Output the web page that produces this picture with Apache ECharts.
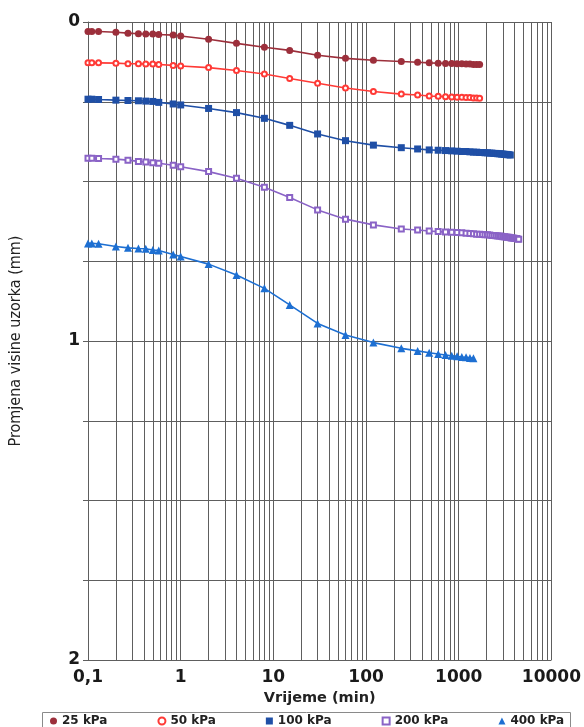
<!DOCTYPE html>
<html>
<head>
<meta charset="utf-8">
<script src="https://cdn.jsdelivr.net/npm/echarts@6/dist/echarts.min.js"></script>
<style>
  html, body { margin: 0; padding: 0; background: #ffffff; }
  #chart { width: 584px; height: 727px; }
</style>
</head>
<body>
<div id="chart"></div>
<script>
// Consolidation curves: settlement (mm) vs. time (min), log time axis.
const seriesNames = ['25 kPa', '50 kPa', '100 kPa', '200 kPa', '400 kPa'];

// Reading times (min)
const time25 = [0.1, 0.11, 0.13, 0.2, 0.27, 0.35, 0.42, 0.5, 0.58, 0.83, 1, 2, 4, 8, 15, 30, 60, 120, 240,
  360, 480, 600, 720, 840, 960, 1080, 1200, 1320, 1440, 1560, 1680];
const time50 = [0.1, 0.11, 0.13, 0.2, 0.27, 0.35, 0.42, 0.5, 0.58, 0.83, 1, 2, 4, 8, 15, 30, 60, 120, 240,
  360, 480, 600, 720, 840, 960, 1080, 1200, 1320, 1440, 1560, 1680];
const time100 = [0.1, 0.11, 0.13, 0.2, 0.27, 0.35, 0.42, 0.5, 0.58, 0.83, 1, 2, 4, 8, 15, 30, 60, 120, 240,
  360, 480, 600, 720, 840, 960, 1080, 1200, 1320, 1440, 1560, 1680, 1800, 1920, 2040, 2160, 2280, 2400,
  2520, 2640, 2760, 2880, 3000, 3120, 3240, 3360, 3480, 3600];
const time200 = [0.1, 0.11, 0.13, 0.2, 0.27, 0.35, 0.42, 0.5, 0.58, 0.83, 1, 2, 4, 8, 15, 30, 60, 120, 240,
  360, 480, 600, 720, 840, 960, 1080, 1200, 1320, 1440, 1560, 1680, 1800, 1920, 2040, 2160, 2280, 2400,
  2520, 2640, 2760, 2880, 3000, 3120, 3240, 3360, 3480, 3600, 3720, 3840, 3960, 4080, 4200, 4320, 4440];
const time400 = [0.1, 0.11, 0.13, 0.2, 0.27, 0.35, 0.42, 0.5, 0.58, 0.83, 1, 2, 4, 8, 15, 30, 60, 120, 240,
  360, 480, 600, 720, 840, 960, 1080, 1200, 1320, 1440];

// Settlement (mm)
const settle25 = [0.030, 0.030, 0.030, 0.032, 0.035, 0.037, 0.038, 0.038, 0.039, 0.041, 0.044, 0.054, 0.067,
  0.079, 0.089, 0.104, 0.114, 0.120, 0.124, 0.126, 0.128, 0.129, 0.130, 0.130, 0.131, 0.131, 0.132, 0.132,
  0.133, 0.133, 0.133];
const settle50 = [0.128, 0.128, 0.128, 0.129, 0.131, 0.131, 0.132, 0.132, 0.133, 0.136, 0.138, 0.143, 0.152,
  0.163, 0.177, 0.192, 0.207, 0.218, 0.226, 0.229, 0.232, 0.233, 0.234, 0.235, 0.236, 0.236, 0.237, 0.237,
  0.238, 0.238, 0.239];
const settle100 = [0.242, 0.242, 0.243, 0.245, 0.246, 0.247, 0.248, 0.249, 0.252, 0.257, 0.260, 0.271, 0.284,
  0.302, 0.324, 0.351, 0.372, 0.386, 0.394, 0.398, 0.401, 0.402, 0.403, 0.404, 0.405, 0.406, 0.406, 0.407,
  0.408, 0.408, 0.409, 0.409, 0.410, 0.410, 0.411, 0.411, 0.412, 0.412, 0.413, 0.413, 0.414, 0.414, 0.415,
  0.415, 0.416, 0.416, 0.417];
const settle200 = [0.427, 0.427, 0.428, 0.430, 0.433, 0.437, 0.439, 0.441, 0.443, 0.449, 0.454, 0.469, 0.490,
  0.518, 0.550, 0.589, 0.618, 0.636, 0.649, 0.652, 0.655, 0.657, 0.658, 0.659, 0.660, 0.661, 0.662, 0.663,
  0.664, 0.665, 0.665, 0.666, 0.667, 0.667, 0.668, 0.669, 0.669, 0.670, 0.671, 0.671, 0.672, 0.673, 0.673,
  0.674, 0.675, 0.675, 0.676, 0.677, 0.677, 0.678, 0.679, 0.679, 0.680, 0.681];
const settle400 = [0.694, 0.694, 0.695, 0.704, 0.708, 0.710, 0.711, 0.715, 0.716, 0.729, 0.735, 0.759, 0.793,
  0.835, 0.887, 0.945, 0.981, 1.005, 1.023, 1.031, 1.037, 1.041, 1.044, 1.046, 1.048, 1.050, 1.051, 1.053,
  1.054];

// Axis tick labels
const xTickLabels = ['0,1', '1', '10', '100', '1000', '10000'];
const yTickLabels = ['0', '1', '2'];

// Intermediate log-cycle grid values (2..9 in each decade)
const minorGridX = [
  0.2, 0.3, 0.4, 0.5, 0.6, 0.7, 0.8, 0.9,
  2, 3, 4, 5, 6, 7, 8, 9,
  20, 30, 40, 50, 60, 70, 80, 90,
  200, 300, 400, 500, 600, 700, 800, 900,
  2000, 3000, 4000, 5000, 6000, 7000, 8000, 9000
];

const gridColor = '#5e5e5e';
const styles = [
  { color: '#9c2f3b', symbol: 'circle', size: 7 },
  { color: '#ff3a36', symbol: 'emptyCircle', size: 5 },
  { color: '#1f4fa6', symbol: 'rect', size: 7 },
  { color: '#8a63c6', symbol: 'emptyRect', size: 5 },
  { color: '#1d6fd2', symbol: 'triangle', size: 8 }
];
const times = [time25, time50, time100, time200, time400];
const settles = [settle25, settle50, settle100, settle200, settle400];

const pair = (t, s) => t.map((v, i) => [v, s[i]]);

const curveSeries = seriesNames.map((name, k) => ({
  name: name,
  type: 'line',
  data: pair(times[k], settles[k]),
  symbol: styles[k].symbol,
  symbolSize: styles[k].size,
  showAllSymbol: true,
  z: 5,
  lineStyle: { color: styles[k].color, width: 1.6 },
  itemStyle: { color: styles[k].color, borderColor: styles[k].color, borderWidth: styles[k].symbol.startsWith('empty') ? 1.8 : 0 },
  animation: false
}));

const gridSeries = {
  name: 'grid',
  type: 'line',
  data: [],
  silent: true,
  z: 1,
  markLine: {
    silent: true,
    symbol: ['none', 'none'],
    animation: false,
    label: { show: false },
    lineStyle: { color: gridColor, width: 1, type: 'solid' },
    data: minorGridX.map(v => ({ xAxis: v }))
  }
};

const chart = echarts.init(document.getElementById('chart'), null, { renderer: 'canvas' });
chart.setOption({
  backgroundColor: '#ffffff',
  animation: false,
  grid: { left: 88, right: 31, top: 22, bottom: 67, containLabel: false },
  xAxis: {
    type: 'log',
    logBase: 10,
    min: 0.1,
    max: 10000,
    name: 'Vrijeme (min)',
    nameLocation: 'middle',
    nameGap: 31,
    nameTextStyle: { fontFamily: 'DejaVu Sans', fontWeight: 'bold', fontSize: 14.5, color: '#222' },
    axisLine: { show: true, lineStyle: { color: gridColor, width: 1 } },
    axisTick: { show: true, length: 4, lineStyle: { color: gridColor } },
    axisLabel: {
      fontFamily: 'DejaVu Sans', fontWeight: 'bold', fontSize: 17, color: '#1a1a1a', margin: 9,
      formatter: (v, i) => xTickLabels[i] !== undefined ? xTickLabels[i] : ''
    },
    splitLine: { show: true, lineStyle: { color: gridColor, width: 1 } }
  },
  yAxis: {
    type: 'value',
    inverse: true,
    min: 0,
    max: 2,
    interval: 0.25,
    name: 'Promjena visine uzorka (mm)',
    nameLocation: 'middle',
    nameRotate: 90,
    nameGap: 64,
    nameTextStyle: { fontFamily: "'Liberation Sans Narrow', 'DejaVu Sans Condensed', sans-serif", fontSize: 16, color: '#222' },
    axisLine: { show: true, lineStyle: { color: gridColor, width: 1 } },
    axisTick: { show: true, length: 5, lineStyle: { color: gridColor } },
    axisLabel: {
      fontFamily: 'DejaVu Sans', fontWeight: 'bold', fontSize: 17, color: '#1a1a1a', margin: 8,
      formatter: v => (Math.abs(v - Math.round(v)) < 1e-9) ? yTickLabels[Math.round(v)] : ''
    },
    splitLine: { show: true, lineStyle: { color: gridColor, width: 1 } }
  },
  legend: {
    data: seriesNames.map((n, k) => ({ name: n, icon: styles[k].symbol })),
    left: 50,
    top: 715,
    itemWidth: 7,
    itemHeight: 7,
    itemGap: 50,
    padding: 0,
    selectedMode: false,
    textStyle: { fontFamily: 'DejaVu Sans', fontWeight: 'bold', fontSize: 12, color: '#222' }
  },
  graphic: [{
    type: 'rect',
    silent: true,
    shape: { x: 42.5, y: 712.5, width: 528, height: 24 },
    style: { fill: null, stroke: '#8a8a8a', lineWidth: 1 }
  }],
  series: [gridSeries].concat(curveSeries)
});
</script>
</body>
</html>
